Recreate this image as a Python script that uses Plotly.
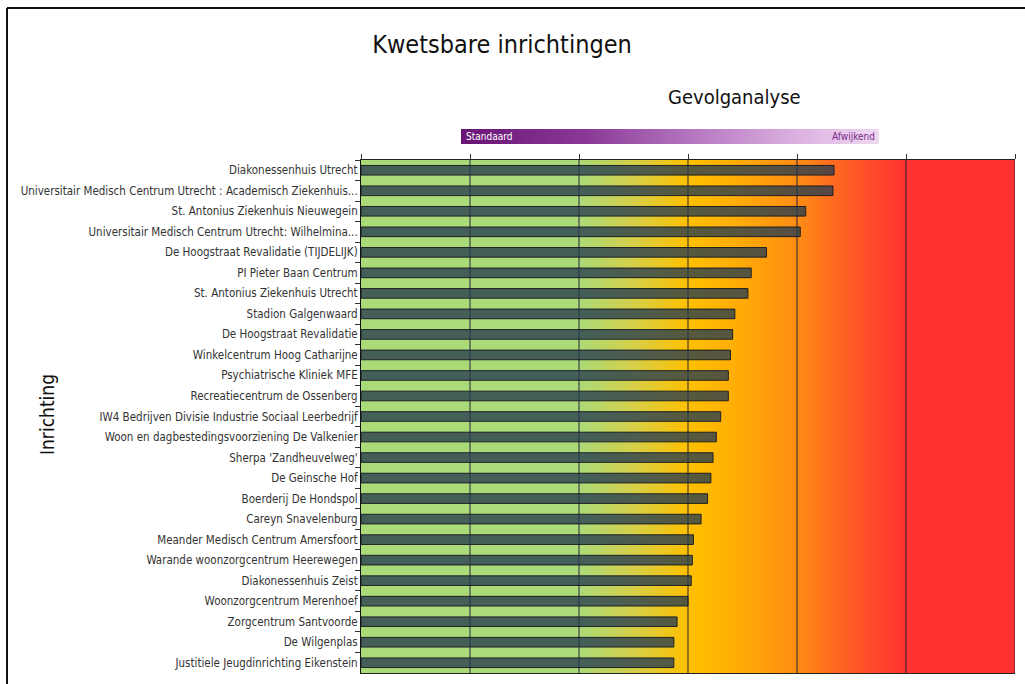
import numpy as np
import plotly.graph_objects as go

# ---- data ----
categories = [
    "Diakonessenhuis Utrecht",
    "Universitair Medisch Centrum Utrecht : Academisch Ziekenhuis...",
    "St. Antonius Ziekenhuis Nieuwegein",
    "Universitair Medisch Centrum Utrecht: Wilhelmina...",
    "De Hoogstraat Revalidatie (TIJDELIJK)",
    "PI Pieter Baan Centrum",
    "St. Antonius Ziekenhuis Utrecht",
    "Stadion Galgenwaard",
    "De Hoogstraat Revalidatie",
    "Winkelcentrum Hoog Catharijne",
    "Psychiatrische Kliniek MFE",
    "Recreatiecentrum de Ossenberg",
    "IW4 Bedrijven Divisie Industrie Sociaal Leerbedrijf",
    "Woon en dagbestedingsvoorziening De Valkenier",
    "Sherpa 'Zandheuvelweg'",
    "De Geinsche Hof",
    "Boerderij De Hondspol",
    "Careyn Snavelenburg",
    "Meander Medisch Centrum Amersfoort",
    "Warande woonzorgcentrum Heerewegen",
    "Diakonessenhuis Zeist",
    "Woonzorgcentrum Merenhoef",
    "Zorgcentrum Santvoorde",
    "De Wilgenplas",
    "Justitiele Jeugdinrichting Eikenstein",
]
values = [4.34, 4.33, 4.08, 4.03, 3.72, 3.58, 3.55, 3.43, 3.41, 3.39, 3.37, 3.37,
          3.30, 3.26, 3.23, 3.21, 3.18, 3.12, 3.05, 3.04, 3.03, 3.00, 2.90, 2.87, 2.87]
grid_ticks = [0, 1, 2, 3, 4, 5, 6]
x_max = 6

# ---- styling ----
W, H = 1025, 684
ML, MR, MT, MB = 361, 10, 100, 11
PW, PH = W - ML - MR, H - MT - MB
plot_top_px = 160


def px_x(p):
    return (p - ML) / PW


def px_y(p):
    return (H - MB - p) / PH


dom_top = px_y(plot_top_px)
FONT = "Liberation Sans Narrow, DejaVu Sans Condensed, Arial Narrow, sans-serif"

bg_scale = [
    [0.0, "#abda78"],
    [2 / 6, "#abda78"],
    [2.5 / 6, "#d6cf48"],
    [3 / 6, "#ffc000"],
    [3.4 / 6, "#ffaf05"],
    [4 / 6, "#ff8c14"],
    [4.5 / 6, "#ff5a26"],
    [5 / 6, "#ff3131"],
    [1.0, "#ff3131"],
]
purple_scale = [
    [0.0, "#6a1476"],
    [0.3, "#8a3a96"],
    [0.55, "#b476c0"],
    [0.8, "#dcb0e0"],
    [1.0, "#eedaf1"],
]

bg_x = np.linspace(0, x_max, 601)
leg_z = np.linspace(0, 1, 300)

fig = go.Figure()

# background gradient
fig.add_trace(go.Heatmap(
    x=bg_x, y=[0.5], z=[bg_x], colorscale=bg_scale, zmin=0, zmax=x_max,
    showscale=False, hoverinfo="skip", xaxis="x", yaxis="y", zsmooth="best",
))
# vertical grid lines (between background and bars)
gx, gy = [], []
for t in grid_ticks[1:]:
    gx += [t, t, None]
    gy += [0, 1, None]
fig.add_trace(go.Scatter(
    x=gx, y=gy, mode="lines", line=dict(color="rgba(30,32,60,0.65)", width=1.5),
    hoverinfo="skip", showlegend=False, xaxis="x", yaxis="y",
))
# bars
fig.add_trace(go.Bar(
    x=values, y=categories, orientation="h", width=0.47,
    marker=dict(color="rgba(38,60,79,0.78)", line=dict(color="rgba(20,22,30,0.9)", width=1)),
    xaxis="x2", yaxis="y2", showlegend=False,
))
# legend gradient bar
fig.add_trace(go.Heatmap(
    x=leg_z, y=[0], z=[leg_z], colorscale=purple_scale, showscale=False,
    hoverinfo="skip", xaxis="x3", yaxis="y3", zsmooth="best",
))

fig.update_layout(
    width=W, height=H,
    margin=dict(l=ML, r=MR, t=MT, b=MB, autoexpand=False),
    paper_bgcolor="white", plot_bgcolor="white",
    font=dict(family=FONT, color="#222"),
    showlegend=False,
    title=dict(text="Kwetsbare inrichtingen", x=502 / W, xref="container",
               y=1 - 44 / H, yref="container", xanchor="center", yanchor="middle",
               font=dict(size=25, family=FONT, color="#111")),
    xaxis=dict(domain=[0, 1], range=[0, x_max], visible=False, fixedrange=True,
               automargin=False),
    yaxis=dict(domain=[0, dom_top], range=[0, 1], visible=False, fixedrange=True,
               automargin=False),
    xaxis2=dict(overlaying="x", range=[0, x_max], side="top", tickvals=grid_ticks,
                showticklabels=False, ticks="outside", ticklen=5, tickcolor="#333",
                showgrid=False, zeroline=False, showline=True, mirror=True,
                linecolor="#222", linewidth=1, automargin=False),
    yaxis2=dict(overlaying="y", type="category", categoryorder="array",
                categoryarray=categories, autorange="reversed",
                ticks="outside", tickson="boundaries", ticklen=5, tickcolor="#333",
                showline=True, linecolor="#111", linewidth=1, showgrid=False,
                automargin=False,
                tickfont=dict(size=11.5, color="#333", family=FONT)),
    xaxis3=dict(domain=[px_x(461), px_x(879)], range=[0, 1], visible=False,
                anchor="y3", fixedrange=True, automargin=False),
    yaxis3=dict(domain=[px_y(144), px_y(129)], range=[-0.5, 0.5], visible=False,
                anchor="x3", fixedrange=True, automargin=False),
)

annotations = [
    dict(text="Gevolganalyse", x=px_x(734), y=px_y(97), xref="paper", yref="paper",
         showarrow=False, xanchor="center", yanchor="middle",
         font=dict(size=20, color="#111", family=FONT)),
    dict(text="Inrichting", x=px_x(47), y=px_y(415), xref="paper", yref="paper",
         showarrow=False, textangle=-90, xanchor="center", yanchor="middle",
         font=dict(size=19, color="#111", family=FONT)),
    dict(text="Standaard", x=px_x(464), y=px_y(136.5), xref="paper", yref="paper",
         showarrow=False, xanchor="left", yanchor="middle",
         font=dict(size=10, color="white", family=FONT)),
    dict(text="Afwijkend", x=px_x(877), y=px_y(136.5), xref="paper", yref="paper",
         showarrow=False, xanchor="right", yanchor="middle",
         font=dict(size=10, color="#7a2a8a", family=FONT)),
]
fig.update_layout(annotations=annotations)

# page frame
fig.update_layout(shapes=[
    dict(type="line", xref="paper", yref="paper", x0=px_x(7), x1=px_x(W + 5),
         y0=px_y(8), y1=px_y(8), line=dict(color="#111", width=2)),
    dict(type="line", xref="paper", yref="paper", x0=px_x(7), x1=px_x(7),
         y0=px_y(8), y1=px_y(H + 5), line=dict(color="#111", width=2)),
])

fig.write_html("out.html", config={"displayModeBar": False},
               post_script="document.body.style.margin='0';document.body.style.overflow='hidden';")
